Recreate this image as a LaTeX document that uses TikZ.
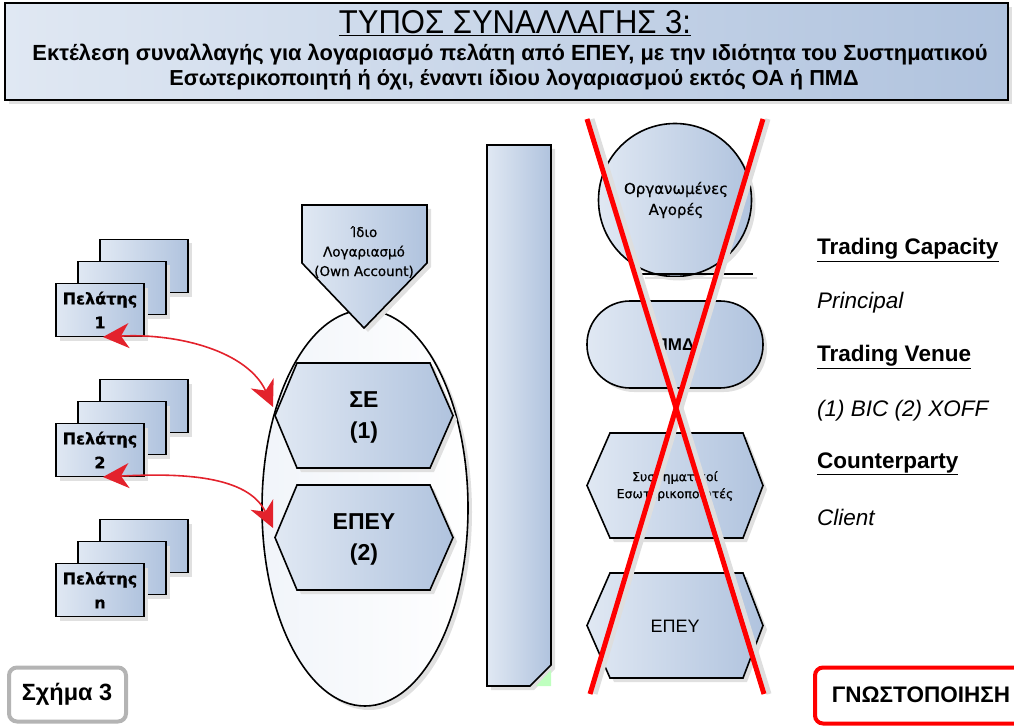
\documentclass[tikz,border=0pt]{standalone}
\usepackage{fontspec}
\setmainfont{Liberation Sans}
\newfontfamily\narrowfont[FakeStretch=0.94]{Liberation Sans}
\newfontfamily\dvfont[FakeBold=0.6]{DejaVu Sans}
\usetikzlibrary{shadows,arrows.meta,shapes.geometric}
\definecolor{blueL}{HTML}{E0E8F3}
\definecolor{blueD}{HTML}{B0C3DE}
\definecolor{redX}{HTML}{FF0000}
\definecolor{arrred}{HTML}{E3222C}
\definecolor{boxgrey}{HTML}{B4B4B4}
\tikzset{
  blueshape/.style={left color=blueL, right color=blueD, draw=black, line width=1.6pt, line join=miter},
  shad/.style={drop shadow={shadow xshift=4pt, shadow yshift=-4pt, fill=black!12, opacity=1}},
  clientbox/.style={blueshape, minimum width=88pt, minimum height=53pt, inner sep=0pt},
  clienttext/.style={font=\dvfont\bfseries\fontsize{16}{24}\selectfont, align=center},
  hexatext/.style={font=\bfseries\fontsize{23}{31}\selectfont, align=center},
  sidehead/.style={anchor=west, inner sep=0pt, font=\bfseries\fontsize{22.5}{26}\selectfont},
  sideval/.style={anchor=west, inner sep=0pt, font=\itshape\fontsize{22.5}{26}\selectfont},
  linkarrow/.style={draw=arrred, line width=1.6pt, {Stealth[length=26pt,width=25pt,inset=8pt]}-{Stealth[length=26pt,width=25pt,inset=8pt]}},
  crossline/.style={draw=redX, line width=5pt},
  crossshadow/.style={draw=black!13, line width=5pt},
}
\newcommand\clientstack[3]{%
  \node[clientbox, shad] (#1b) at (144,#2-44) {};
  \node[clientbox, shad] (#1m) at (122,#2-22) {};
  \node[clientbox, shad] (#1) at (100,#2) {};
  \node[clienttext] (#1t) at (100,#2) {Πελάτης\\#3};
}
\begin{document}
\begin{tikzpicture}[x=1pt,y=-1pt]
\useasboundingbox (0,0) rectangle (1014,727);
% title box
\node[blueshape, line width=2.2pt, shad, minimum width=1003pt, minimum height=97pt, inner sep=0pt] (titlebox) at (506.5,51.5) {};
\node (title) at (515,23) {\narrowfont\fontsize{33}{33}\selectfont\underline{ΤΥΠΟΣ ΣΥΝΑΛΛΑΓΗΣ 3:}};
\node (sub1) at (510,55) {\bfseries\fontsize{21.9}{22}\selectfont Εκτέλεση συναλλαγής για λογαριασμό πελάτη από ΕΠΕΥ, με την ιδιότητα του Συστηματικού};
\node (sub2) at (514,80) {\bfseries\fontsize{21.7}{22}\selectfont Εσωτερικοποιητή ή όχι, έναντι ίδιου λογαριασμού εκτός ΟΑ ή ΠΜΔ};
% clients
\clientstack{c1}{310}{1}
\clientstack{c2}{450}{2}
\clientstack{c3}{590}{n}
% ellipse
\node[ellipse, draw=black, line width=1.6pt, left color=blueL!45!white, right color=white, shad, minimum width=206pt, minimum height=396pt] (oval) at (365,508) {};
% own account pentagon
\path[blueshape, shad] (302,205) -- (427,205) -- (427,263) -- (364,328) -- (302,263) -- cycle;
\node[font=\dvfont\fontsize{13.5}{19.5}\selectfont, align=center] (own) at (364,252) {Ίδιο\\Λογαριασμό\\(Own Account)};
% hexagons in ellipse
\path[blueshape, shad] (275,415.5) -- (297,363) -- (430,363) -- (453,415.5) -- (430,468) -- (297,468) -- cycle;
\node[hexatext] (se) at (364,417) {ΣΕ\\(1)};
\coordinate (seW) at (273,407);
\path[blueshape, shad] (275,537.5) -- (297,485) -- (430,485) -- (453,537.5) -- (430,590) -- (297,590) -- cycle;
\node[hexatext] (epey) at (364,539) {ΕΠΕΥ\\(2)};
\coordinate (epeyW) at (273,528);
% arrows
\coordinate (c1S) at (103,337);
\coordinate (c2S) at (103,477);
\draw[linkarrow] (c1S) .. controls (180,333) and (248,352) .. (seW);
\draw[linkarrow] (c2S) .. controls (180,473) and (248,475) .. (epeyW);
% tall bar
\path[blueshape, shad] (487,145) -- (551,145) -- (551,665) -- (530,686) -- (487,686) -- cycle;
\fill[green!25!white] (551,670) -- (551,686) -- (536,686) -- cycle;
% right column
\node[circle, blueshape, shad, minimum size=153pt] (oa) at (675,200) {};
\node[font=\dvfont\fontsize{15}{21}\selectfont, align=center] (oat) at (676,200) {Οργανωμένες\\Αγορές};
\draw[draw=black!12, line width=1.6pt] (645,278) -- (757,278);
\draw[black, line width=1.6pt] (640,274) -- (753,274);
\node[blueshape, shad, rounded corners=43pt, minimum width=176pt, minimum height=87pt, inner sep=0pt] (pmd) at (675,344.5) {};
\node[font=\bfseries\fontsize{17}{20}\selectfont] (pmdt) at (675,345) {ΠΜΔ};
\path[blueshape, shad] (587,485.5) -- (610,433) -- (743,433) -- (763,485.5) -- (743,538) -- (610,538) -- cycle;
\node[font=\dvfont\fontsize{12.5}{17}\selectfont, align=center] (si) at (675,486) {Συστηματικοί\\Εσωτερικοποιητές};
\path[blueshape, shad] (587,625.5) -- (610,573) -- (743,573) -- (763,625.5) -- (743,678) -- (610,678) -- cycle;
\node[font=\fontsize{18}{20}\selectfont] (epeyR) at (675,626) {ΕΠΕΥ};
% red cross
\coordinate (xa1) at (587,119); \coordinate (xa2) at (764,694);
\coordinate (xb1) at (763,119); \coordinate (xb2) at (590,694);
\draw[crossshadow] ([xshift=5pt]xa1) -- ([xshift=5pt]xa2);
\draw[crossshadow] ([xshift=5pt]xb1) -- ([xshift=5pt]xb2);
\draw[crossline] (xa1) -- (xa2);
\draw[crossline] (xb1) -- (xb2);
% side texts
\node[sidehead] (tc) at (817,250) {\underline{Trading Capacity}};
\node[sideval] (tcv) at (817,303) {Principal};
\node[sidehead] (tv) at (817,357) {\underline{Trading Venue}};
\node[sideval] (tvv) at (817,411) {(1) BIC (2) XOFF};
\node[sidehead] (cp) at (817,464) {\underline{Counterparty}};
\node[sideval] (cpv) at (817,517) {Client};
% bottom boxes
\node[draw=boxgrey, line width=4pt, rounded corners=8pt, fill=white, minimum width=117pt, minimum height=54pt] (fig) at (67.5,694.5) {};
\node[font=\bfseries\fontsize{23.5}{25}\selectfont] (figt) at (67,694.5) {Σχήμα 3};
\node[draw=redX, line width=4pt, rounded corners=8pt, fill=white, minimum width=210pt, minimum height=56pt] (notif) at (920,695.5) {};
\node[font=\bfseries\fontsize{22.5}{25}\selectfont] (notift) at (921,695) {ΓΝΩΣΤΟΠΟΙΗΣΗ};
\end{tikzpicture}
\end{document}
